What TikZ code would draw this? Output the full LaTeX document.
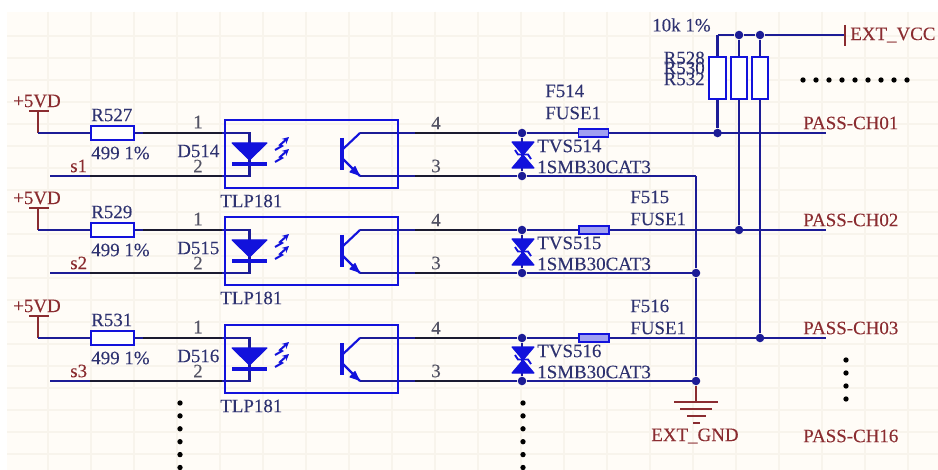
\documentclass[tikz,border=0pt]{standalone}
\usepackage{fontspec}
\setmainfont[FakeBold=0.12]{Liberation Serif}
\usetikzlibrary{arrows.meta}
\definecolor{wire}{HTML}{1C1C96}
\definecolor{part}{HTML}{1212DC}
\definecolor{lab}{HTML}{2E3270}
\definecolor{net}{HTML}{8A2C30}
\definecolor{pin}{HTML}{1A1A30}
\definecolor{sheet}{HTML}{FFFCF7}
\definecolor{gridc}{HTML}{F8F4EC}
\tikzset{
  x=0.75pt,y=-0.75pt,
  wireln/.style={draw=wire,line width=1.7pt},
  pinln/.style={draw=pin,line width=1.8pt},
  netln/.style={draw=net,line width=1.7pt},
  partln/.style={draw=part,line width=1.6pt},
  txt/.style={font=\fontsize{14.2}{16}\selectfont,inner sep=0pt,anchor=west,text=lab},
  nettxt/.style={txt,text=net},
  pintxt/.style={txt,text=pin!75,anchor=center},
  res/.style={draw=part,line width=1.6pt,fill=white,inner sep=0pt,minimum width=32pt,minimum height=11pt},
  vres/.style={draw=part,line width=1.6pt,fill=white,inner sep=0pt,minimum width=12.5pt,minimum height=31.5pt},
  fuse/.style={draw=part,line width=1.2pt,fill=white!60!part,inner sep=0pt,minimum width=22.5pt,minimum height=6pt},
  jdot/.style={circle,fill=wire,inner sep=0pt,minimum size=6.4pt},
  sdot/.style={circle,fill=black,inner sep=0pt,minimum size=4pt},
  optobox/.style={draw=part,line width=1.6pt,inner sep=0pt,minimum width=129.75pt,minimum height=51pt},
  fillpart/.style={fill=part,draw=part,line width=.8pt,line join=round},
}
\begin{document}
\begin{tikzpicture}
\useasboundingbox (0,0) rectangle (938,470);
\fill[white] (0,0) rectangle (938,470);
% faint sheet grid
\fill[sheet] (7,12) rectangle (938,470);
\foreach \gx in {48,91,...,936} \draw[gridc,line width=.8pt] (\gx,12) -- (\gx,470);
\foreach \gy in {36,58,...,470} \draw[gridc,line width=.8pt] (7,\gy) -- (938,\gy);

% pull-up resistors and supply
\coordinate (vt1) at (717.5,35);
\node[jdot] (vj2) at (739,35) {};
\node[jdot] (vj3) at (760,35) {};
\coordinate (vccpin) at (845,35);
\coordinate (vcct) at (845,25);
\coordinate (vccb) at (845,46);
\draw[wireln] (vt1) -- (vj2) -- (vj3) -- (vccpin);
\draw[netln] (vcct) -- (vccb);
\node[vres] (RA) at (717.5,78) {};
\node[vres] (RB) at (739,78) {};
\node[vres] (RC) at (760,78) {};
\draw[wireln] (vt1) -- (RA.north);
\draw[wireln] (vj2) -- (RB.north);
\draw[wireln] (vj3) -- (RC.north);
\node[nettxt] (vcclab) at (850,35) {EXT\_VCC};
\node[txt] (tenk) at (652,25) {10k 1\%};
\node[txt,anchor=east] (n528) at (705,58) {R528};
\node[txt,anchor=east] (n530) at (705,68) {R530};
\node[txt,anchor=east] (n532) at (705,79) {R532};

% three channels
\foreach \r/\dy/\a/\b/\c/\ch/\fx/\flx/\fly in {
  1/0/527/514/514/01/593.5/545/91,
  2/97/529/515/515/02/594/630/197,
  3/205/531/516/516/03/594/630/306}{
\begin{scope}[shift={(0,\dy)}]
  % labels
  \node[txt,text=net,anchor=center] (pw\r) at (37,101) {+5VD};
  \node[txt] (rn\r) at (91,115) {R\a};
  \node[txt] (rv\r) at (91,153) {499 1\%};
  \node[nettxt] (s\r) at (70,166) {s\r};
  \node[pintxt] (p1\r) at (198,122) {1};
  \node[pintxt] (p2\r) at (198,166) {2};
  \node[txt] (dn\r) at (177,151) {D\b};
  \node[txt] (tl\r) at (220,201) {TLP181};
  \node[pintxt] (p4\r) at (436,123) {4};
  \node[pintxt] (p3\r) at (436,166) {3};
  \node[txt] (tv\r) at (537,146) {TVS\c};
  \node[txt] (tp\r) at (537,167) {1SMB30CAT3};
  \node[nettxt] (pc\r) at (803,123) {PASS-CH\ch};

  % supply symbol
  \coordinate (pb\r) at (38,111);
  \coordinate (pm\r) at (38,133);
  \draw[netln] (29,111) -- (49,111);
  \draw[netln] (pb\r) -- (pm\r);

  % key points
  \node[res] (R\r) at (112.5,133) {};
  \coordinate (sin\r) at (50,176);
  \coordinate (la\r) at (249.5,133);
  \coordinate (lc\r) at (249.5,176);
  \coordinate (cp\r) at (360,133);
  \coordinate (ep\r) at (360,176);
  \node[jdot] (ja\r) at (522,133) {};
  \node[jdot] (jb\r) at (522,176) {};
  \node[fuse] (F\r) at (\fx,133) {};
  \coordinate (end\r) at (825.5,133);

  % wires
  \draw[wireln] (pm\r) -- (R\r.west);
  \draw[wireln] (R\r.east) -- (la\r) -- (lc\r) -- (sin\r);
  \draw[wireln] (cp\r) -- (ja\r) -- (F\r.west);
  \draw[wireln] (F\r.east) -- (end\r);
  \draw[wireln] (ep\r) -- (jb\r) -- (696,176);
  \draw[wireln] (ja\r) -- (jb\r);
  % pin segments
  \draw[pinln] (R\r.east) ++(8,0) -- (222,133);
  \draw[pinln] (90,176) -- (222,176);
  \draw[pinln] (415,133) -- (500,133);
  \draw[pinln] (415,176) -- (500,176);

  % optocoupler
  \node[optobox] (U\r) at (311.5,154) {};
  % LED
  \draw[fillpart] (232,143) -- (267,143) -- (249.5,160) -- cycle;
  \draw[part,line width=2.8pt] (232,164) -- (267,164);
  \draw[part,line width=1.5pt,-{Stealth[length=5pt,width=5pt]}] (275,150) -- (282,146) -- (280,145) -- (289,137);
  \draw[part,line width=1.5pt,-{Stealth[length=5pt,width=5pt]}] (275,162) -- (282,158) -- (280,157) -- (289,149);
  % transistor
  \draw[part,line width=2.8pt] (342,138) -- (342,170);
  \draw[partln] (342,150) -- (cp\r);
  \draw[partln] (342,158) -- (ep\r);
  \draw[fillpart] (359,175) -- (350,172) -- (355,166.5) -- cycle;

  % TVS pair
  \draw[fillpart] (512,142) -- (534,142) -- (523,155) -- cycle;
  \draw[fillpart] (512,168) -- (534,168) -- (523,155) -- cycle;
  \draw[part,line width=1.4pt] (515,150) -- (518,154.5) -- (528,154.5) -- (531,159);
\end{scope}
\node[txt] (ff\r) at (\flx,\fly) {F\c};
\node[txt] (fu\r) at (\flx,\fly+22) {FUSE1};
}

% PASS pull-up buses
\node[jdot] (jp1) at (717.5,133) {};
\node[jdot] (jp2) at (739,230) {};
\node[jdot] (jp3) at (760,338) {};
\draw[wireln] (RA.south) -- (jp1);
\draw[wireln] (RB.south) -- (jp2);
\draw[wireln] (RC.south) -- (jp3);

% return bus and ground
\coordinate (bus) at (696,176);
\node[jdot] (jg2) at (696,273) {};
\node[jdot] (jg3) at (696,381) {};
\coordinate (gt) at (696,402);
\draw[wireln] (bus) -- (jg2) -- (jg3);
\draw[netln] (jg3) -- (gt);
\draw[netln] (674,402) -- (718,402);
\draw[netln] (680,409) -- (712,409);
\draw[netln] (687,416) -- (706,416);
\draw[netln] (693,423) -- (700,423);
\node[nettxt] (gndlab) at (651,436) {EXT\_GND};
\node[nettxt] (pc16) at (803,436) {PASS-CH16};

% continuation dots
\foreach \i in {0,...,8} \node[sdot] (hd\i) at ({803+13*\i},80) {};
\foreach \i in {0,...,3} \node[sdot] (rd\i) at (846,{360+13*\i}) {};
\foreach \i in {0,...,5} {
  \node[sdot] (md\i) at (523,{403+12.9*\i}) {};
  \node[sdot] (ld\i) at (180,{403+12.9*\i}) {};
}
\end{tikzpicture}
\end{document}
